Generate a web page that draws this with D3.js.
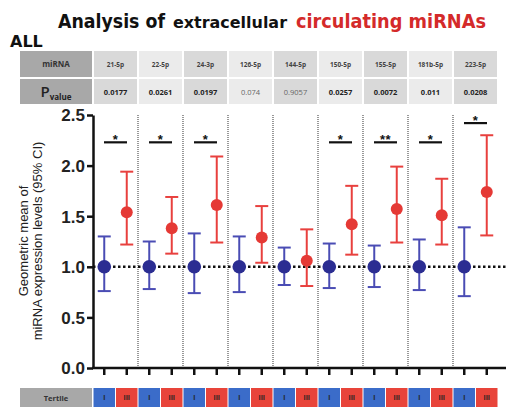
<!DOCTYPE html>
<html><head><meta charset="utf-8">
<script src="https://cdn.jsdelivr.net/npm/d3@7"></script>
<style>body{margin:0;background:#fff}svg{display:block}</style>
</head><body>
<svg id="c" width="506" height="411"></svg>
<script>
const mirnas = ["21-5p","22-5p","24-3p","126-5p","144-5p","150-5p","155-5p","181b-5p","223-5p"];
const pvalues = ["0.0177","0.0261","0.0197","0.074","0.9057","0.0257","0.0072","0.011","0.0208"];
const significant = [true,true,true,false,false,true,true,true,true];
const tertiles = ["I","III"];
const lowMean = [1,1,1,1,1,1,1,1,1];
const lowLower = [0.76,0.78,0.74,0.75,0.82,0.79,0.80,0.77,0.71];
const lowUpper = [1.30,1.25,1.33,1.30,1.19,1.23,1.21,1.27,1.39];
const highMean = [1.54,1.38,1.61,1.29,1.06,1.42,1.57,1.51,1.74];
const highLower = [1.22,1.13,1.24,1.04,0.81,1.12,1.24,1.22,1.31];
const highUpper = [1.94,1.69,2.09,1.60,1.37,1.80,1.99,1.87,2.30];
const stars = ["*","*","*","","","*","**","*","*"];
const starLevel = [2.23,2.23,2.23,null,null,2.23,2.23,2.23,2.42];
const yTicks = [0,0.5,1.0,1.5,2.0,2.5];

const svg = d3.select("#c");
const y = d3.scaleLinear().domain([0,2.5]).range([368,115]);
const xm = d3.scaleBand().domain(mirnas).range([93,498]);
const xt = d3.scalePoint().domain(tertiles).range([0,xm.bandwidth()]).padding(0.5);
const keys = mirnas.flatMap(m=>tertiles.map(t=>m+"|"+t));
const xk = d3.scaleBand().domain(keys).range([93,498]);

const blue = "#2b2d92", blueBar = "#4a4cb4", red = "#e53935", redBar = "#e8403e";

// Title
const tf = "'DejaVu Sans', Lato, sans-serif";
const title = svg.append("text").attr("y",28).attr("font-family",tf).attr("font-weight",700);
title.append("tspan").attr("x",58).attr("font-size",19).attr("fill","#111").attr("textLength",107).attr("lengthAdjust","spacingAndGlyphs").text("Analysis of");
title.append("tspan").attr("x",173).attr("font-size",15).attr("fill","#111").attr("textLength",114).attr("lengthAdjust","spacingAndGlyphs").text("extracellular");
title.append("tspan").attr("x",296).attr("font-size",19).attr("fill","#d42a2a").attr("textLength",190).attr("lengthAdjust","spacingAndGlyphs").text("circulating miRNAs");
svg.append("text").attr("x",10).attr("y",47).attr("font-family",tf)
  .attr("font-weight",700).attr("font-size",16).attr("fill","#111").text("ALL");

// Table
const tbl = svg.append("g");
tbl.append("rect").attr("x",20).attr("y",51).attr("width",72).attr("height",26).attr("fill","#a8a8a8");
tbl.append("rect").attr("x",20).attr("y",79).attr("width",72).attr("height",25).attr("fill","#a8a8a8");
tbl.append("text").attr("x",56).attr("y",67).attr("text-anchor","middle").attr("font-family","'Open Sans', sans-serif")
  .attr("font-weight",700).attr("font-size",8).attr("fill","#333").text("miRNA");
const pv = tbl.append("text").attr("x",56).attr("y",97).attr("text-anchor","middle").attr("font-family","'Open Sans', sans-serif").attr("fill","#222");
pv.append("tspan").attr("font-size",15).attr("font-weight",600).text("P");
pv.append("tspan").attr("font-size",8).attr("font-weight",700).attr("dy",3).text("value");
mirnas.forEach((m,i)=>{
  const fill = i%2===0 ? "#d9d9d9" : "#ebebeb";
  tbl.append("rect").attr("x",xm(m)+1).attr("y",51).attr("width",xm.bandwidth()-2).attr("height",26).attr("fill",fill);
  tbl.append("rect").attr("x",xm(m)+1).attr("y",79).attr("width",xm.bandwidth()-2).attr("height",25).attr("fill",fill);
  tbl.append("text").attr("x",xm(m)+xm.bandwidth()/2).attr("y",67).attr("text-anchor","middle")
    .attr("font-family","'Open Sans', sans-serif").attr("font-weight",700).attr("font-size",6.5).attr("fill","#444").text(m);
  tbl.append("text").attr("x",xm(m)+xm.bandwidth()/2).attr("y",94.5).attr("text-anchor","middle")
    .attr("font-family","'Open Sans', sans-serif").attr("font-weight",significant[i]?700:400).attr("font-size",7.5)
    .attr("fill",significant[i]?"#222":"#666").text(pvalues[i]);
});

// Vertical dotted dividers
mirnas.slice(1).forEach(m=>{
  svg.append("line").attr("x1",xm(m)).attr("x2",xm(m)).attr("y1",y(2.5)).attr("y2",y(0))
    .attr("stroke","#555").attr("stroke-width",1.2).attr("stroke-dasharray","1,1");
});

// Reference dotted line
svg.append("line").attr("x1",93).attr("x2",506).attr("y1",y(1)).attr("y2",y(1))
  .attr("stroke","#111").attr("stroke-width",2.5).attr("stroke-dasharray","2.5,2.5");

// Y axis
const ya = svg.append("g").attr("transform","translate(93,0)")
  .call(d3.axisLeft(y).tickValues(yTicks).tickFormat(d3.format(".1f")).tickSize(6).tickSizeOuter(0));
ya.select(".domain").attr("stroke","#111").attr("stroke-width",2.5);
ya.selectAll(".tick line").attr("stroke","#111").attr("stroke-width",2.5);
ya.selectAll(".tick text").attr("font-family","'Liberation Sans', Arial, sans-serif").attr("font-size",17)
  .attr("font-weight",700).attr("fill","#222").attr("x",-8).attr("dy","0.35em");

// X axis
const xa = svg.append("g").attr("transform","translate(0,368)")
  .call(d3.axisBottom(xk).tickSize(7).tickSizeOuter(0).tickFormat(""));
xa.select(".domain").remove();
xa.append("line").attr("x1",92).attr("x2",506).attr("stroke","#111").attr("stroke-width",2.5);
xa.selectAll(".tick line").attr("stroke","#111").attr("stroke-width",2.5);

// Y label
const yl = svg.append("text").attr("transform","translate(0,241) rotate(-90)").attr("text-anchor","middle")
  .attr("font-family","'Liberation Sans', Arial, sans-serif").attr("font-size",13).attr("fill","#222");
yl.append("tspan").attr("x",0).attr("y",28).text("Geometric mean of");
yl.append("tspan").attr("x",0).attr("y",42).text("miRNA expression levels (95% CI)");

// Error bars and points
const series = [
  {t:"I", mean:lowMean, lo:lowLower, hi:lowUpper, c:blue, bc:blueBar},
  {t:"III", mean:highMean, lo:highLower, hi:highUpper, c:red, bc:redBar}
];
series.forEach(s=>{
  const g = svg.append("g");
  mirnas.forEach((m,i)=>{
    const cx = xm(m)+xt(s.t);
    g.append("line").attr("x1",cx).attr("x2",cx).attr("y1",y(s.lo[i])).attr("y2",y(s.hi[i])).attr("stroke",s.bc).attr("stroke-width",2);
    [s.lo[i],s.hi[i]].forEach(v=>{
      g.append("line").attr("x1",cx-6.5).attr("x2",cx+6.5).attr("y1",y(v)).attr("y2",y(v)).attr("stroke",s.bc).attr("stroke-width",2);
    });
    g.append("circle").attr("cx",cx).attr("cy",y(s.mean[i])).attr("r",s.t==="I"?6.8:6).attr("fill",s.c);
  });
});

// Significance
mirnas.forEach((m,i)=>{
  if(!stars[i]) return;
  const c = xm(m)+xm.bandwidth()/2;
  svg.append("line").attr("x1",c-11.5).attr("x2",c+11.5).attr("y1",y(starLevel[i])).attr("y2",y(starLevel[i]))
    .attr("stroke","#111").attr("stroke-width",2.2);
  svg.append("text").attr("x",c).attr("y",y(starLevel[i])+1.5).attr("text-anchor","middle")
    .attr("font-family","'Liberation Sans', Arial, sans-serif").attr("font-weight",700).attr("font-size",13)
    .attr("letter-spacing",0.5).attr("fill","#111").text(stars[i]);
});

// Tertile row
svg.append("rect").attr("x",20).attr("y",388).attr("width",72).attr("height",19).attr("fill","#a8a8a8");
svg.append("text").attr("x",56).attr("y",400.5).attr("text-anchor","middle").attr("font-family","'Open Sans', sans-serif")
  .attr("font-weight",700).attr("font-size",7.5).attr("fill","#333").text("Tertile");
keys.forEach(k=>{
  const t = k.split("|")[1];
  svg.append("rect").attr("x",xk(k)+0.5).attr("y",388).attr("width",xk.bandwidth()-1).attr("height",19)
    .attr("fill",t==="I"?"#3b6cc9":"#e8443a");
  svg.append("text").attr("x",xk(k)+xk.bandwidth()/2).attr("y",400).attr("text-anchor","middle")
    .attr("font-family","'Open Sans', sans-serif").attr("font-weight",700).attr("font-size",6.5).attr("fill","#222").text(t);
});
</script>
</body></html>
